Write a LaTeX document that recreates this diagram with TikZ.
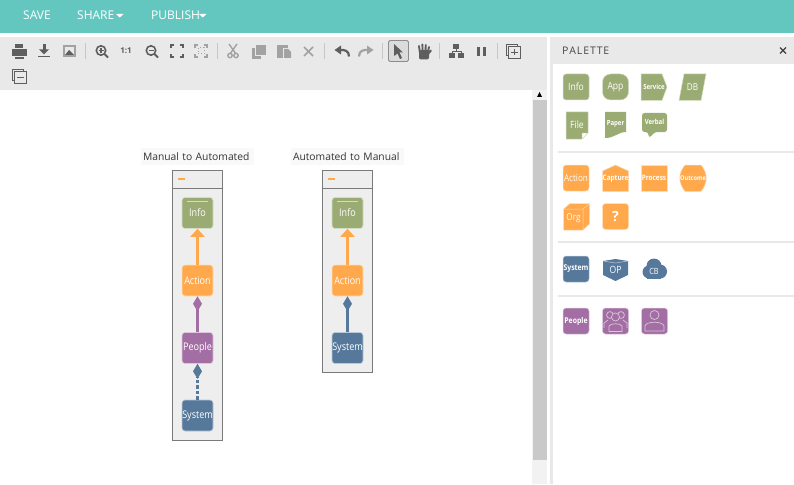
\documentclass[tikz,border=0pt]{standalone}
\usepackage{fontspec}
\setmainfont{Open Sans}
\newfontfamily\narrowfont[FakeStretch=.86]{Open Sans}
\usetikzlibrary{arrows.meta}
\definecolor{tealbar}{HTML}{64C7BF}
\definecolor{toolgray}{HTML}{E9E9E9}
\definecolor{olive}{HTML}{9BAB74}
\definecolor{olivee}{HTML}{D5DCC4}
\definecolor{amber}{HTML}{FFA84C}
\definecolor{ambere}{HTML}{FFDDB5}
\definecolor{steel}{HTML}{56799B}
\definecolor{steele}{HTML}{BBC9D7}
\definecolor{plum}{HTML}{A36EA3}
\definecolor{plume}{HTML}{DCC7DC}
\definecolor{icondark}{HTML}{5E5E5E}
\definecolor{iconfade}{HTML}{A2A2A2}
\newcommand{\fsize}[1]{\narrowfont\fontsize{#1}{#1}\selectfont}
\tikzset{
  box/.style={rounded corners=3pt, minimum size=31pt, inner sep=0pt, text=white, font=\fsize{10.5}, line width=.6pt},
  infobox/.style={box, fill=olive, draw=olivee},
  actionbox/.style={box, fill=amber, draw=ambere},
  peoplebox/.style={box, fill=plum, draw=plume},
  systembox/.style={box, fill=steel, draw=steele},
  tile/.style={rounded corners=3pt, minimum size=26pt, inner sep=0pt, text=white, font=\fsize{8.5}, line width=.5pt},
  olivetile/.style={tile, fill=olive, draw=olivee},
  ambertile/.style={tile, fill=amber, draw=ambere},
  steeltile/.style={tile, fill=steel, draw=steele},
  plumtile/.style={tile, fill=plum, draw=plume},
  tag/.style={inner sep=0pt, text=white, font=\fsize{8.5}},
  lane/.style={draw=black!52, fill=black!6.5, line width=.9pt},
  title/.style={fill=black!2.5, inner ysep=0pt, inner xsep=2pt, text width=109pt, align=left, minimum height=17pt, font=\fontsize{10.3}{12}\selectfont, text=black!80},
  menu/.style={anchor=west, inner sep=0pt, text=white, font=\fontsize{12}{14}\selectfont},
  link/.style={line width=2.1pt},
  divider/.style={draw=black!9, line width=1.5pt},
  toolsep/.style={draw=black!22, line width=.7pt},
  ico/.style={fill=icondark, draw=none},
  fade/.style={fill=iconfade, draw=none},
  wire/.style={draw=icondark, fill=none, line width=1pt},
  wirefade/.style={draw=iconfade, fill=none, line width=1pt}
}
\begin{document}
\begin{tikzpicture}[x=1pt, y=-1pt]
\useasboundingbox (0,0) rectangle (794,484);
% bars
\fill[tealbar] (0,0) rectangle (794,33);
\fill[toolgray] (0,37) rectangle (547,90);
\fill[black!5] (532,90) rectangle (547,484);
\fill[black!21] (533,100) rectangle (547,460);
\fill[black] (537,97) -- (539.5,92) -- (542,97) -- cycle;
\node[menu] (save) at (23,15) {SAVE};
\node[menu] (share) at (77,15) {SHARE};
\node[menu] (publish) at (151,15) {PUBLISH};
\fill[white] (116,14) -- (123.5,14) -- (119.7,17.5) -- cycle;
\fill[white] (199,14) -- (206.5,14) -- (202.7,17.5) -- cycle;
% toolbar
\foreach \sx in {85,217,324,382,439,497} \draw[toolsep] (\sx,43) -- (\sx,59);
% print, download, image
\fill[ico] (12,49) rectangle (27,56);
\fill[ico] (15,44) rectangle (23,48);
\fill[ico] (15,57) rectangle (24,59);
\fill[ico] (42.5,44) rectangle (45.5,50);
\fill[ico] (39,49.5) -- (49,49.5) -- (44,54.5) -- cycle;
\fill[ico] (38,56) rectangle (50,57.5);
\fill[iconfade] (63,45) rectangle (76,57);
\fill[toolgray] (65,47) rectangle (74,55);
\fill[icondark] (65,55) -- (69,50) -- (74,55) -- cycle;
% zoom group
\foreach \zx in {101,151} {
  \draw[icondark, line width=1.6pt] (\zx,50.5) circle [radius=4.7];
  \draw[icondark, line width=2pt] (\zx+3.5,54) -- (\zx+7,57.5);
  \draw[icondark, line width=1.1pt] (\zx-2.5,50.5) -- (\zx+2.5,50.5);
}
\draw[icondark, line width=1.1pt] (101,48) -- (101,53);
\node[inner sep=0pt, text=icondark, font=\fontsize{8}{8}\selectfont\bfseries] (oneone) at (126,51) {1:1};
\draw[wire, line width=1.6pt] (171,48) -- (171,45) -- (174,45) (180,45) -- (183,45) -- (183,48) (183,54) -- (183,57) -- (180,57) (174,57) -- (171,57) -- (171,54);
\draw[wirefade, line width=1.6pt] (195,48) -- (195,45) -- (198,45) (204,45) -- (207,45) -- (207,48) (207,54) -- (207,57) -- (204,57) (198,57) -- (195,57) -- (195,54);
\draw[wirefade, dotted] (198,48) rectangle (204,54);
% cut, copy, paste, delete
\draw[wirefade, line width=1.4pt] (229,44) -- (236,54) (237,44) -- (230,54);
\draw[wirefade, line width=1.4pt] (230,55.5) circle [radius=2.2] (236,55.5) circle [radius=2.2];
\fill[iconfade] (252,48) rectangle (261,59);
\fill[toolgray] (255,45) rectangle (266,56);
\fill[iconfade] (256,45) rectangle (266,55);
\fill[iconfade] (277,45) rectangle (288,58);
\fill[toolgray] (283,48) rectangle (292,59);
\fill[iconfade] (284,49) -- (288,49) -- (291,52) -- (291,58) -- (284,58) -- cycle;
\draw[wirefade, line width=1.7pt] (304,47) -- (313,56) (313,47) -- (304,56);
% undo, redo
\draw[icondark, line width=2.2pt] (349,56.5) .. controls (349,51) and (345,49.5) .. (340,50);
\fill[ico] (334.5,50) -- (341,45.5) -- (341,54.5) -- cycle;
\draw[iconfade, line width=2.2pt] (359,56.5) .. controls (359,51) and (363,49.5) .. (368,50);
\fill[fade] (373.5,50) -- (367,45.5) -- (367,54.5) -- cycle;
% pointer, hand
\draw[black!45, fill=black!14, rounded corners=1.5pt, line width=.8pt] (388.5,40.5) rectangle (408.5,61.5);
\fill[ico] (394,44) -- (403,52.5) -- (399.5,52.5) -- (402,58) -- (400,59) -- (397.5,53.5) -- (394,56) -- cycle;
\fill[ico, rounded corners=2pt] (419,50) rectangle (429,59.5);
\draw[icondark, line width=1.9pt, line cap=round] (419.8,52) -- (419,46) (422.6,52) -- (422.4,44.5) (425.4,52) -- (425.8,45) (428,52) -- (429,47) (428,54) -- (431,50.5);
% tree, pause
\fill[ico] (453,44) rectangle (459,49);
\fill[ico] (449,53) rectangle (455,58.5);
\fill[ico] (458,53) rectangle (464,58.5);
\draw[icondark, line width=.8pt] (456,49) -- (456,51) (452,53) -- (452,51) -- (461,51) -- (461,53);
\fill[ico] (477,47) rectangle (480,56);
\fill[ico] (483,47) rectangle (486,56);
% expand, collapse
\foreach \ex/\ey in {513/51, 19/76} {
  \draw[icondark, line width=.8pt] (\ex-7,\ey-7) rectangle (\ex+4,\ey+4);
  \draw[icondark, fill=toolgray, line width=.8pt] (\ex-4.5,\ey-4.5) rectangle (\ex+7,\ey+7);
  \draw[icondark, line width=1.2pt] (\ex-2,\ey+1.2) -- (\ex+4.5,\ey+1.2);
}
\draw[icondark, line width=1.2pt] (514.2,49) -- (514.2,55.5);
% left lane
\draw[lane] (172.5,170.5) rectangle (222.5,440.5);
\draw[lane] (172.5,170.5) rectangle (222.5,188);
\draw[amber, line width=1.8pt] (178,179) -- (185,179);
\node[title] (mantitle) at (197.5,156.5) {Manual to Automated};
\node[infobox] (info1) at (197.5,213) {Info};
\draw[olivee, line width=1pt] (187,201) -- (208,201);
\node[actionbox] (action1) at (197.5,280.5) {Action};
\node[peoplebox] (people1) at (197.5,348) {People};
\node[systembox] (system1) at (197.5,415.5) {System};
\draw[link, amber, -{Triangle[length=8pt,width=14pt]}] (action1) -- (info1);
\draw[link, plum, -{Diamond[length=15pt,width=9pt]}] (people1) -- (action1);
\draw[link, steel, dash pattern=on 3.5pt off 2pt, -{Diamond[length=15pt,width=9pt]}] (system1) -- (people1);
% right lane
\draw[lane] (322.5,170.5) rectangle (372.5,372.5);
\draw[lane] (322.5,170.5) rectangle (372.5,188);
\draw[amber, line width=1.8pt] (328,179) -- (335,179);
\node[title] (auttitle) at (347.5,156.5) {Automated to Manual};
\node[infobox] (info2) at (347.5,213) {Info};
\draw[olivee, line width=1pt] (337,201) -- (358,201);
\node[actionbox] (action2) at (347.5,280.5) {Action};
\node[systembox] (system2) at (347.5,348) {System};
\draw[link, amber, -{Triangle[length=8pt,width=14pt]}] (action2) -- (info2);
\draw[link, steel, -{Diamond[length=15pt,width=9pt]}] (system2) -- (action2);
% palette
\fill[black!9] (550,37) rectangle (553,484);
\fill[toolgray] (550,37) rectangle (794,64);
\node[anchor=west, inner sep=0pt, text=black!72, font=\fontsize{10.5}{12}\selectfont] (palette) at (562,51) {P\kern.9pt A\kern.9pt L\kern.9pt E\kern.9pt T\kern.9pt T\kern.9pt E};
\draw[black!75, line width=1.2pt] (780,47.5) -- (786,53.5) (786,47.5) -- (780,53.5);
\foreach \ry in {152,242,296} \draw[divider] (558,\ry) -- (794,\ry);
% palette row one
\node[olivetile, font=\fsize{10}] (pinfo) at (576,87) {Info};
\node[olivetile, rounded corners=8pt, font=\fsize{10}] (papp) at (615.5,87) {App};
\fill[olive, draw=olivee, line width=.5pt] (641,74) -- (662,74) -- (667,87) -- (662,100.5) -- (641,100.5) -- cycle;
\node[tag, font=\fsize{7}\bfseries] (pservice) at (654,87) {Service};
\fill[olive, draw=olivee, line width=.5pt] (684,74) -- (706,74) -- (701,100.5) -- (679,100.5) -- cycle;
\node[tag, font=\fsize{9.5}] (pdb) at (692.5,87) {DB};
\fill[olive, draw=olivee, line width=.5pt] (566,112) -- (588,112) -- (588,133) -- (582,139) -- (566,139) -- cycle;
\draw[olivee, fill=white, line width=.5pt] (588,133) -- (582,133) -- (582,139) -- cycle;
\node[tag, font=\fsize{10}] (pfile) at (577,124.5) {File};
\fill[olive] (605,112) -- (626,112) -- (626,132) .. controls (618,132) and (615,138) .. (605,138) -- cycle;
\node[tag, font=\fsize{7}\bfseries] (ppaper) at (615.5,123.5) {Paper};
\fill[olive, rounded corners=2.5pt] (642,113) -- (667,113) -- (667,132) -- (655,132) -- (649,138) -- (648,132) -- (642,132) -- cycle;
\node[tag, font=\fsize{7}\bfseries] (pverbal) at (654.5,122) {Verbal};
% palette row two
\node[ambertile, font=\fsize{9.5}] (paction) at (576,178) {Action};
\fill[amber, draw=ambere, line width=.5pt] (602.5,171) -- (615.5,165) -- (628.5,171) -- (628.5,191.5) -- (602.5,191.5) -- cycle;
\node[tag, font=\fsize{7.5}\bfseries] (pcapture) at (615.5,178.5) {Capture};
\node[ambertile, rounded corners=0pt, font=\fsize{7.5}\bfseries] (pprocess) at (654,178) {Process};
\fill[amber, draw=ambere, line width=.5pt] (685,165) -- (701,165) .. controls (708,173) and (708,183) .. (701,191.5) -- (685,191.5) .. controls (678,183) and (678,173) .. (685,165) -- cycle;
\node[tag, font=\fsize{6.5}\bfseries] (poutcome) at (693,178) {Outcome};
\fill[amber, draw=ambere, line width=.5pt] (563.5,209) -- (570,203.5) -- (589.5,203.5) -- (589.5,224) -- (583,230) -- (563.5,230) -- cycle;
\draw[ambere, line width=.5pt] (563.5,209) -- (583,209) -- (589.5,203.5) (583,209) -- (583,230);
\node[tag, font=\fsize{9.5}] (porg) at (573.5,218) {Org};
\node[ambertile, font=\fontsize{14}{14}\selectfont\bfseries] (pquestion) at (615.5,216.5) {?};
% palette row three
\node[steeltile, font=\fsize{8}\bfseries] (psystem) at (576,269) {System};
\fill[steel] (603,261) -- (615.5,259) -- (628,261) -- (628,275) -- (615.5,281) -- (603,275) -- cycle;
\draw[steele, line width=.5pt] (603,261) -- (615.5,263) -- (628,261);
\node[tag, font=\fsize{10}] (pop) at (615.5,270) {OP};
\fill[steel] (649,272) circle [radius=6.5];
\fill[steel] (654,266) circle [radius=7.5];
\fill[steel] (660,271.5) circle [radius=7];
\fill[steel] (647,271) rectangle (661,278.5);
\node[tag, font=\fsize{8.5}] (pcb) at (654,271) {CB};
% palette row four
\node[plumtile, font=\fsize{8}\bfseries] (ppeople) at (576,321) {People};
\node[plumtile] (pgroup) at (615.5,321) {};
\node[plumtile] (pperson) at (654.5,321) {};
\draw[plume, line width=.7pt] (610,315) circle [radius=3.4] (621,315) circle [radius=3.4] (604,328) -- (604,323) -- (608,320) (627,328) -- (627,323) -- (623,320);
\draw[plume, fill=plum, line width=.7pt] (615.5,317) circle [radius=4] (609,331.5) -- (609,326) .. controls (610,323) and (621,323) .. (622,326) -- (622,331.5) -- cycle;
\draw[plume, line width=.7pt] (654.5,315) circle [radius=4.5] (645,331) -- (645,326) .. controls (646,321) and (663,321) .. (664,326) -- (664,331) -- cycle;
\end{tikzpicture}
\end{document}
